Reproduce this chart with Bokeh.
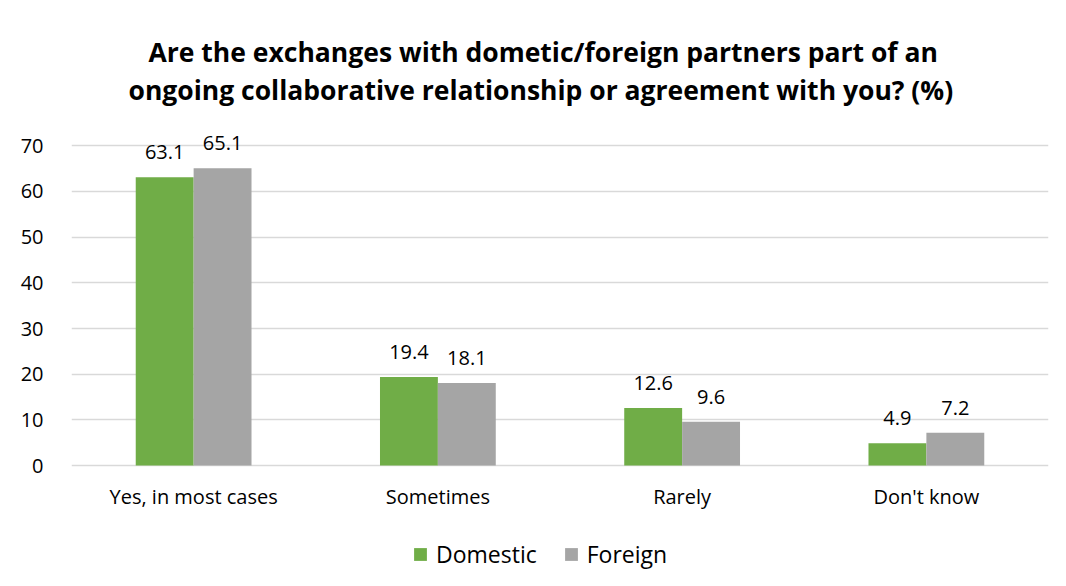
from bokeh.plotting import figure
from bokeh.models import (ColumnDataSource, FactorRange, Range1d, LabelSet, Legend,
                          LegendItem, Title, FixedTicker)
from bokeh.core.properties import value
from bokeh.transform import dodge
from bokeh.embed import file_html
from bokeh.resources import INLINE

categories = ["Yes, in most cases", "Sometimes", "Rarely", "Don't know"]
domestic = [63.1, 19.4, 12.6, 4.9]
foreign = [65.1, 18.1, 9.6, 7.2]
series_names = ["Domestic", "Foreign"]
y_ticks = [0, 10, 20, 30, 40, 50, 60, 70]
title_lines = ["Are the exchanges with dometic/foreign partners part of an",
               "ongoing collaborative relationship or agreement with you? (%)"]

FONT = "Open Sans"
GREEN = "#70ad47"
GRAY = "#a5a5a5"
GRID = "#d9d9d9"

src = ColumnDataSource(dict(
    cat=categories,
    dom=domestic,
    fog=foreign,
    dom_lbl=[f"{v:.1f}" for v in domestic],
    fog_lbl=[f"{v:.1f}" for v in foreign],
))

# plot area extends below the zero line so that category labels and legend live inside it
p = figure(x_range=FactorRange(*categories, range_padding=0),
           y_range=Range1d(-26.47, 74),
           frame_width=977, frame_height=459,
           output_backend="svg", toolbar_location=None,
           min_border_left=71, min_border_right=18,
           min_border_bottom=0, min_border_top=127)
p.title = None
p.outline_line_color = None
p.background_fill_color = "white"
p.border_fill_color = "white"

w = 0.237
off = 0.1185
r1 = p.vbar(x=dodge("cat", -off, range=p.x_range), top="dom", width=w, source=src,
            fill_color=GREEN, line_color=None)
r2 = p.vbar(x=dodge("cat", off, range=p.x_range), top="fog", width=w, source=src,
            fill_color=GRAY, line_color=None)

for col, lbl, o in (("dom", "dom_lbl", -off), ("fog", "fog_lbl", off)):
    ls = LabelSet(x=dodge("cat", o, range=p.x_range), y=col, text=lbl, source=src,
                  text_align="center", text_baseline="bottom", y_offset=18,
                  text_font=value(FONT), text_font_size="20px", text_color="#000000")
    p.add_layout(ls)

# category labels under the zero line
cat_labels = LabelSet(x="cat", y=0, text="cat", source=src,
                      text_align="center", text_baseline="top", y_offset=-17,
                      text_font=value(FONT), text_font_size="20px", text_color="#000000")
p.add_layout(cat_labels)

p.xaxis.visible = False

p.yaxis.ticker = FixedTicker(ticks=y_ticks)
p.yaxis.axis_line_color = None
p.yaxis.major_tick_line_color = None
p.yaxis.minor_tick_line_color = None
p.yaxis.major_label_text_font = FONT
p.yaxis.major_label_text_font_size = "20px"
p.yaxis.major_label_text_color = "#000000"
p.yaxis.major_label_standoff = 22

p.xgrid.grid_line_color = None
p.ygrid.grid_line_color = GRID
p.ygrid.grid_line_width = 1.5

legend = Legend(items=[LegendItem(label=series_names[0], renderers=[r1]),
                       LegendItem(label=series_names[1], renderers=[r2])],
                orientation="horizontal", location=(341, 16),
                label_text_font=FONT, label_text_font_size="23px",
                label_text_color="#000000",
                glyph_width=16, glyph_height=16, spacing=26, label_standoff=8,
                border_line_color=None, background_fill_alpha=0,
                margin=0, padding=4)
p.add_layout(legend, "center")

# spacer between the plot area and the two title lines
p.add_layout(Title(text=" ", text_font_size="10px", standoff=7), "above")
p.add_layout(Title(text=title_lines[1], align="left", offset=57, text_font=FONT,
                   text_font_size="26.5px", text_font_style="bold",
                   text_color="#000000", standoff=0), "above")
p.add_layout(Title(text=title_lines[0], align="left", offset=77, text_font=FONT,
                   text_font_size="26.5px", text_font_style="bold",
                   text_color="#000000", standoff=0), "above")

open("out.html", "w").write(file_html(p, INLINE))
